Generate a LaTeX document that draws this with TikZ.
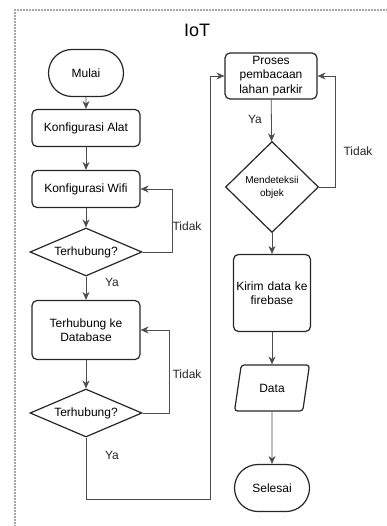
\documentclass[tikz,border=0pt]{standalone}
\usepackage{fontspec}
\setmainfont{Liberation Sans}
\usetikzlibrary{shapes.geometric,shapes.misc,arrows.meta}
\tikzset{
  box/.style={draw=black!85, line width=1.2pt, rounded corners=5pt, inner sep=1pt, align=center},
  terminal/.style={draw=black!85, line width=1.2pt, rounded rectangle, inner sep=1pt, minimum width=77pt, minimum height=47pt},
  decision/.style={draw=black!85, line width=1.2pt, diamond, inner sep=0pt, align=center},
  iobox/.style={draw=black!85, line width=1.2pt, trapezium, trapezium left angle=74, trapezium right angle=106, trapezium stretches=true, rounded corners=3pt, inner sep=1pt, minimum width=75pt, minimum height=46pt},
  line/.style={draw=black!70, line width=0.8pt, -{Stealth[length=8pt,width=7pt]}},
  label/.style={text=black!85}
}
\begin{document}
\begin{tikzpicture}[x=1pt, y=-1pt, every node/.style={font=\fontsize{12}{14.5}\selectfont}]
% \clip (0,0) rectangle (387,526);
\useasboundingbox (0,0) rectangle (387,526);

% Frame round the whole flow
\draw [draw=black!35, line width=1.3pt, dash pattern=on 2pt off 1pt] (15,530) -- (15,10) -- (392,10);%
\node (iot) at (197,30) [font=\fontsize{18}{20}\selectfont] {IoT};%

% Left column
\node (mulai) at (86,73) [terminal] {Mulai};%
\node (alat) at (86,128) [box, minimum width=108pt, minimum height=37pt] {Konfigurasi Alat};%
\node (wifi) at (86,189) [box, minimum width=108pt, minimum height=37pt] {Konfigurasi Wifi};%
\node (cek1) at (86,252) [decision, shape aspect=2.33, minimum width=112pt, minimum height=48pt] {Terhubung?};%
\node (database) at (86,330) [box, minimum width=108pt, minimum height=59pt] {Terhubung ke\\Database};%
\node (cek2) at (86,413) [decision, shape aspect=2.33, minimum width=112pt, minimum height=48pt] {Terhubung?};%

% Right column
\node (proses) at (271,76) [box, minimum width=92pt, minimum height=46pt, text width=90pt] {Proses\\pembacaan\\lahan parkir};%
\node (deteksi) at (272,187) [decision, minimum width=93pt, minimum height=91pt, font=\fontsize{10}{13}\selectfont] {Mendeteksii\\objek};%
\node (kirim) at (272,293) [box, minimum width=77pt, minimum height=77pt, text width=75pt] {Kirim data ke\\firebase};%
\node (data) at (272,388) [iobox] {Data};%
\node (selesai) at (272,488) [terminal] {Selesai};%

% Drawing connectors of left column
\draw [line] (mulai) -- (alat);%
\draw [line] (alat) -- (wifi);%
\draw [line] (wifi) -- (cek1);%
\draw [line] (cek1) -- (database);%
\draw [line] (cek1.east) -- ++(30,0) |- (wifi.east);%
\draw [line] (database) -- (cek2);%
\draw [line] (cek2.east) -- ++(27,0) |- (database.east);%

% Drawing connector to right column
\draw [line] (cek2.south) -- ++(0,62) -| ([xshift=-14pt]proses.west) -- (proses.west);%

% Drawing connectors of right column
\draw [line] (proses) -- (deteksi);%
\draw [line] (deteksi.east) -- ++(16,0) |- (proses.east);%
\draw [line] (deteksi) -- (kirim);%
\draw [line] (kirim) -- (data);%
\draw [line] (data) -- (selesai);%

% Marking labels
\node (ya1) at (112,282) [label] {Ya};%
\node (tidak1) at (187,226) [label] {Tidak};%
\node (tidak2) at (187,374) [label] {Tidak};%
\node (ya2) at (112,455) [label] {Ya};%
\node (ya3) at (255,119) [label] {Ya};%
\node (tidak3) at (358,151) [label] {Tidak};%
\end{tikzpicture}
\end{document}
